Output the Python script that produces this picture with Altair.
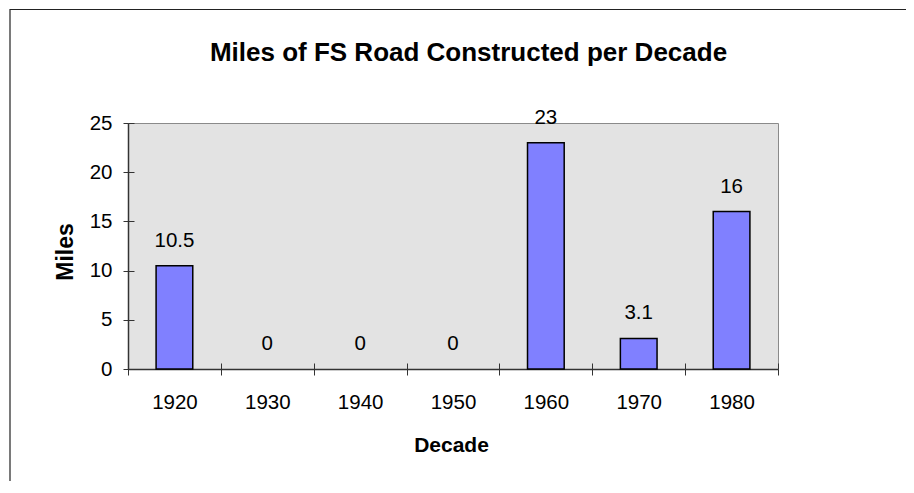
import altair as alt
import pandas as pd

decades = ["1920", "1930", "1940", "1950", "1960", "1970", "1980"]
miles = [10.5, 0, 0, 0, 23, 3.1, 16]
label_text = ["10.5", "0", "0", "0", "23", "3.1", "16"]
y_ticks = [0, 5, 10, 15, 20, 25]

df = pd.DataFrame({"decade": decades, "miles": miles, "label": label_text})

FONT = "Liberation Sans"
W, H = 650, 246

x_scale = alt.Scale(paddingInner=0, paddingOuter=0, round=False)
y_scale = alt.Scale(domain=[0, 25], nice=False)

x_axis_main = alt.Axis(
    title="Decade", titleFont=FONT, titleFontSize=21, titleFontWeight="bold",
    titleColor="black", titleBaseline="alphabetic", titleY=82, titleX=323,
    labelFont=FONT, labelFontSize=20.5, labelColor="black", labelPadding=17,
    labelAngle=0, tickBand="extent", tickSize=6, tickColor="#333333",
    domainColor="#333333", domainWidth=1.5, grid=False,
)
y_axis_main = alt.Axis(
    title="Miles", titleFont=FONT, titleFontSize=23, titleFontWeight="bold",
    titleColor="black", titleBaseline="alphabetic", titleAngle=-90,
    titleX=-56, titleY=128.5, titleAlign="center",
    labelFont=FONT, labelFontSize=20.5, labelColor="black", labelPadding=11,
    values=y_ticks, tickSize=5, tickColor="#333333",
    domainColor="#333333", domainWidth=1.5, grid=False,
)
x_axis_inner = alt.Axis(
    orient="bottom", offset=-6, tickSize=6, tickColor="#333333", labels=False,
    domain=False, title=None, tickBand="extent", grid=False,
)
y_axis_inner = alt.Axis(
    orient="left", offset=-6, tickSize=6, tickColor="#333333", labels=False,
    domain=False, title=None, values=y_ticks, grid=False,
)

base = alt.Chart(df)

bars = base.transform_filter(alt.datum.miles > 0).mark_bar(
    color="#8080FF", stroke="black", strokeWidth=1.5,
    width=alt.RelativeBandSize(0.395),
).encode(
    x=alt.X("decade:N", scale=x_scale, axis=x_axis_main, sort=decades),
    y=alt.Y("miles:Q", scale=y_scale, axis=y_axis_main),
)

labels = base.mark_text(
    font=FONT, fontSize=20.5, color="black", baseline="alphabetic", dy=-19,
).encode(
    x=alt.X("decade:N", scale=x_scale, axis=x_axis_inner, sort=decades),
    y=alt.Y("miles:Q", scale=y_scale, axis=y_axis_inner),
    text="label:N",
)

frame = alt.Chart(pd.DataFrame({"f": [0]})).mark_rect(
    fill="transparent", stroke="#222222", strokeWidth=1.2,
).encode(
    x=alt.value(-118), x2=alt.value(900),
    y=alt.value(-113.5), y2=alt.value(480),
)

chart = alt.layer(frame, bars, labels).resolve_axis(
    x="independent", y="independent"
).properties(
    width=W, height=H,
    background="white",
    padding={"left": 120, "top": 115, "right": 128, "bottom": 112},
    autosize=alt.AutoSizeParams(type="none"),
    title=alt.TitleParams(
        "Miles of FS Road Constructed per Decade", font=FONT, fontSize=26,
        fontWeight="bold", color="black", anchor="middle", frame="group",
        dx=15.5, baseline="alphabetic", offset=-78,
    ),
).configure_view(
    fill="#E3E3E3", stroke="#8A8A8A", strokeWidth=1,
)

chart.save("out.html", embed_options={"renderer": "svg", "actions": False})
